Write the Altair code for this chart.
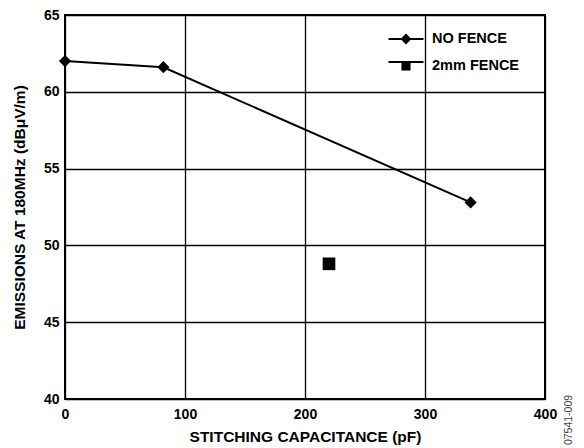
import altair as alt
import pandas as pd

# ---- data ----
nofence_cap = [0, 82, 338]
nofence_emis = [62.0, 61.6, 52.8]
fence_cap = [220]
fence_emis = [48.8]
series_names = ["NO FENCE", "2mm FENCE"]
x_ticks = [0, 100, 200, 300, 400]
y_ticks = [40, 45, 50, 55, 60, 65]
figure_id = "07541-009"

df = pd.DataFrame({
    "cap": nofence_cap + fence_cap,
    "emis": nofence_emis + fence_emis,
    "series": [series_names[0]] * len(nofence_cap) + [series_names[1]] * len(fence_cap),
})

FONT = "Liberation Sans"
LEG_X, LEG_Y, LEG_SIZE = 322.5, 5.5, 1225

x = alt.X("cap:Q", scale=alt.Scale(domain=[0, 400], nice=False),
          axis=alt.Axis(values=x_ticks, title="STITCHING CAPACITANCE (pF)",
                        labelPadding=8, titlePadding=8, labelFlush=False))
y = alt.Y("emis:Q", scale=alt.Scale(domain=[40, 65], nice=False, zero=False),
          axis=alt.Axis(values=y_ticks, title="EMISSIONS AT 180MHz (dBμV/m)",
                        labelPadding=6, titlePadding=16, labelFlush=False))

# line layer; its stroke legend draws the line part of the legend keys
line = alt.Chart(df).transform_filter(
    alt.datum.series == series_names[0]
).mark_line(strokeWidth=2).encode(
    x=x, y=y,
    stroke=alt.Stroke("series:N",
                      scale=alt.Scale(domain=series_names, range=["black", "black"]),
                      legend=alt.Legend(title=None, orient="none", legendX=LEG_X, legendY=LEG_Y,
                                        symbolType="stroke", symbolSize=LEG_SIZE,
                                        symbolStrokeWidth=2, symbolStrokeColor="black",
                                        labelExpr="''", labelFontSize=8, labelOffset=2,
                                        rowPadding=-8.5, padding=0)),
)

points = alt.Chart(df).mark_point(filled=True, color="black", opacity=1).encode(
    x=x, y=y,
    shape=alt.Shape("series:N", scale=alt.Scale(domain=series_names, range=["diamond", "square"]), legend=None),
    size=alt.Size("series:N", scale=alt.Scale(domain=series_names, range=[150, 160]), legend=None),
)

diamond_leg = "M0,-0.31L0.31,0L0,0.31L-0.31,0Z"
square_leg = "M-0.26,-0.26L0.26,-0.26L0.26,0.26L-0.26,0.26Z"

legend_layer = alt.Chart(df).transform_filter(
    alt.datum.cap < -1000
).mark_point(filled=True, color="black", opacity=1).encode(
    x=x, y=y,
    shape=alt.Shape("series:N",
                    scale=alt.Scale(domain=series_names, range=[diamond_leg, square_leg]),
                    legend=alt.Legend(title=None, orient="none", legendX=LEG_X, legendY=LEG_Y,
                                      symbolSize=LEG_SIZE, symbolFillColor="black",
                                      symbolOpacity=1,
                                      labelFont=FONT, labelFontSize=14.5, labelFontWeight="bold",
                                      labelColor="black", labelOffset=7.5,
                                      rowPadding=-12.5, padding=0)),
)

note = alt.Chart(df).transform_filter(alt.datum.cap == 0).mark_text(
    angle=270, font=FONT, fontSize=10.5, color="#444", align="center", baseline="middle"
).encode(x=alt.value(504), y=alt.value(405), text=alt.value(figure_id))

chart = alt.layer(line, points, legend_layer, note).resolve_scale(
    shape="independent", size="independent", stroke="independent"
).properties(
    width=480, height=384,
    autosize=alt.AutoSizeParams(type="none"),
    padding={"left": 57, "top": 7, "right": 31, "bottom": 49},
).configure_view(
    stroke="black", strokeWidth=2
).configure_axis(
    grid=True, gridColor="black", gridWidth=1.3, gridOpacity=1,
    domain=False, ticks=False,
    labelFont=FONT, labelFontSize=14, labelFontWeight="bold", labelColor="black",
    titleFont=FONT, titleFontSize=15.5, titleFontWeight="bold", titleColor="black",
)

chart.save("out.html", embed_options={"renderer": "svg", "actions": False})
